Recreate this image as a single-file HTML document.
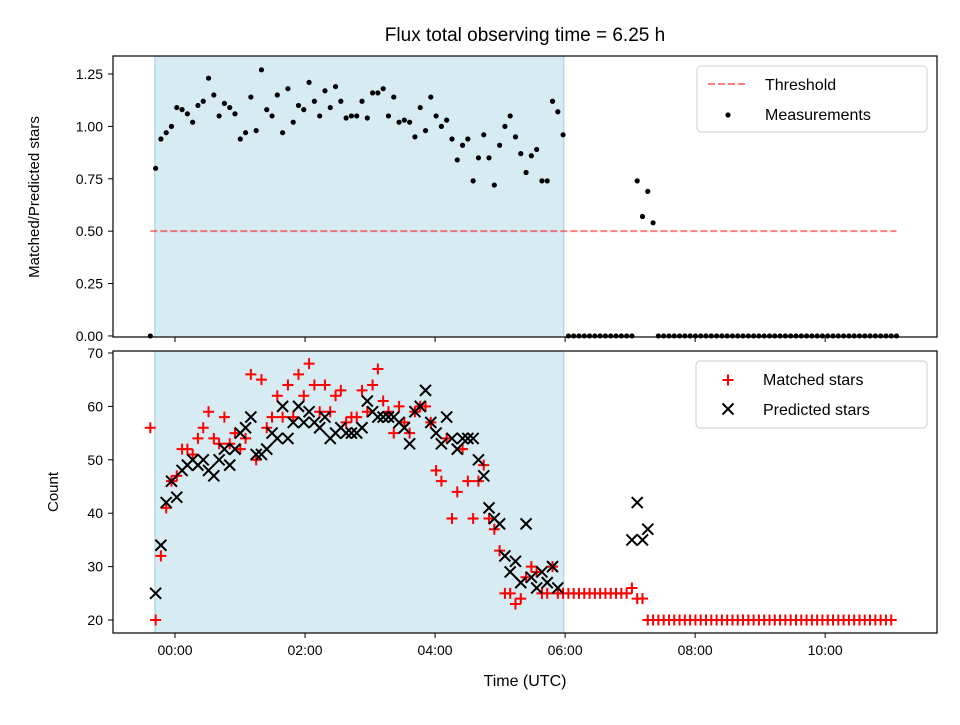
<!DOCTYPE html>
<html><head><meta charset="utf-8"><style>
body{margin:0;background:#fff}
svg{font-family:"Liberation Sans","DejaVu Sans",sans-serif}
</style></head><body>
<svg id="chart" width="960" height="720" viewBox="0 0 960 720" xmlns="http://www.w3.org/2000/svg"></svg>
<script>
const t0 = -0.38;
const dt = 0.0814;
const shadeRange = [-0.31, 5.98];
const threshold = 0.5;
const ratio = [0,
0.80,0.94,0.97,1.00,1.09,1.08,1.06,1.02,1.10,1.12,1.23,1.15,1.05,1.11,1.09,1.06,0.94,0.97,1.14,0.98,
1.27,1.08,1.05,1.15,0.97,1.18,1.02,1.10,1.08,1.21,1.12,1.05,1.17,1.09,1.19,1.12,1.04,1.05,1.05,1.12,
1.04,1.16,1.16,1.18,1.05,1.14,1.02,1.03,1.02,0.95,1.09,0.98,1.14,1.05,1.00,1.03,0.94,0.84,0.91,0.94,
0.74,0.85,0.96,0.85,0.72,0.91,1.00,1.05,0.95,0.87,0.78,0.86,0.89,0.74,0.74,1.12,1.07,0.96,
0,0,0,0,0,0,0,0,0,0,0,0,0,
0.74,0.57,0.69,0.54,
0,0,0,0,0,0,0,0,0,0,0,0,0,0,0,0,0,0,0,0,0,0,0,0,0,0,0,0,0,0,0,0,0,0,0,0,0,0,0,0,0,0,0,0,0,0];
const matched = [56,
20,32,41,46,47,52,52,51,54,56,59,54,53,58,53,55,52,54,66,
50,65,56,58,62,58,64,58,66,62,68,64,59,64,59,62,63,57,58,58,
63,59,64,67,61,59,55,60,57,55,59,60,60,57,48,46,54,39,44,52,
46,39,46,49,39,37,33,25,25,23,24,28,30,29,25,25,30,25,
25,25,25,25,25,25,25,25,25,25,25,25,25,
26,24,24,20,
20,20,20,20,20,20,20,20,20,20,20,20,20,20,20,20,20,20,20,20,20,20,20,20,20,20,20,20,20,20,20,20,20,20,20,20,20,20,20,20,20,20,20,20,20,20];
const predicted = [null,
25,34,42,46,43,48,49,50,49,50,48,47,50,52,49,52,55,56,58,51,
51,52,55,54,60,54,57,60,57,59,57,56,58,54,55,56,55,55,55,56,
61,59,58,58,58,58,57,56,53,59,60,63,57,55,53,58,54,52,54,54,
54,50,47,41,39,38,32,29,31,27,38,28,26,29,27,30,26,
null,null,null,null,null,null,null,null,null,null,null,null,null,
35,42,35,37];
const topTicks = [0,0.25,0.5,0.75,1.0,1.25];
const topTickLabels = ["0.00","0.25","0.50","0.75","1.00","1.25"];
const botTicks = [20,30,40,50,60,70];
const xTicks = [0,2,4,6,8,10];
const xTickLabels = ["00:00","02:00","04:00","06:00","08:00","10:00"];

const NS="http://www.w3.org/2000/svg";
const svg=document.getElementById('chart');
function mk(tag,attrs,parent,text){const e=document.createElementNS(NS,tag);for(const k in attrs)e.setAttribute(k,attrs[k]);if(text!==undefined)e.textContent=text;(parent||svg).appendChild(e);return e;}
const L=113,R=937;
const xMin=-0.954,xMax=11.72;
const X=t=>L+(t-xMin)/(xMax-xMin)*(R-L);
const TT=56,TB=337,tyMin=-0.005,tyMax=1.336;
const YT=v=>TB-(v-tyMin)/(tyMax-tyMin)*(TB-TT);
const BT=351,BB=633,byMin=17.57,byMax=70.37;
const YB=v=>BB-(v-byMin)/(byMax-byMin)*(BB-BT);
const T=i=>t0+i*dt;

let e=mk('text',{x:525,y:41,'font-size':19,'text-anchor':'middle'},svg,'Flux total observing time = 6.25 h');



e=mk('rect',{x:X(shadeRange[0]),y:TT,width:X(shadeRange[1])-X(shadeRange[0]),height:TB-TT,fill:'#add8e6','fill-opacity':0.5,stroke:'#9fcfe0'});


e=mk('rect',{x:X(shadeRange[0]),y:BT,width:X(shadeRange[1])-X(shadeRange[0]),height:BB-BT,fill:'#add8e6','fill-opacity':0.5,stroke:'#9fcfe0'});



e=mk('line',{x1:X(T(0)),x2:X(T(ratio.length-1)),y1:YT(threshold),y2:YT(threshold),stroke:'#ff0000','stroke-opacity':0.5,'stroke-width':2,'stroke-dasharray':'7,3'});



ratio.forEach((v,i)=>{if(v===null)return;
 const c=mk('circle',{cx:X(T(i)),cy:YT(v),r:2.6,fill:'#000'});
 
 
});
matched.forEach((v,i)=>{if(v===null)return;const x=X(T(i)),y=YB(v);
 const p=mk('path',{d:`M${x-5.5},${y}H${x+5.5}M${x},${y-5.5}V${y+5.5}`,stroke:'#f00','stroke-width':2});
 
 
});
predicted.forEach((v,i)=>{if(v===null)return;const x=X(T(i)),y=YB(v);
 const p=mk('path',{d:`M${x-5.5},${y-5.5}L${x+5.5},${y+5.5}M${x-5.5},${y+5.5}L${x+5.5},${y-5.5}`,stroke:'#000','stroke-width':2});
 
 
});

e=mk('rect',{x:L,y:TT,width:R-L,height:TB-TT,fill:'none',stroke:'#000','stroke-width':1.2});


e=mk('rect',{x:L,y:BT,width:R-L,height:BB-BT,fill:'none',stroke:'#000','stroke-width':1.2});



topTicks.forEach((v,i)=>{const y=YT(v);
 mk('line',{x1:L-5,x2:L,y1:y,y2:y,stroke:'#000'});
 const t=mk('text',{x:L-10,y:y+5,'font-size':14,'text-anchor':'end'},svg,topTickLabels[i]);
 
 
});
botTicks.forEach(v=>{const y=YB(v);
 mk('line',{x1:L-5,x2:L,y1:y,y2:y,stroke:'#000'});
 const t=mk('text',{x:L-10,y:y+5,'font-size':14,'text-anchor':'end'},svg,String(v));
 
 
});
xTicks.forEach((v,i)=>{const x=X(v);
 mk('line',{x1:x,x2:x,y1:TB,y2:TB+5,stroke:'#000'});
 mk('line',{x1:x,x2:x,y1:BB,y2:BB+5,stroke:'#000'});
 const t=mk('text',{x:x,y:BB+22,'font-size':14,'text-anchor':'middle'},svg,xTickLabels[i]);
 
 
});

e=mk('text',{x:525,y:686,'font-size':16,'text-anchor':'middle'},svg,'Time (UTC)');


e=mk('text',{x:39,y:197,'font-size':15,'text-anchor':'middle',transform:'rotate(-90 39 197)'},svg,'Matched/Predicted stars');


e=mk('text',{x:58,y:492,'font-size':15,'text-anchor':'middle',transform:'rotate(-90 58 492)'},svg,'Count');



let g=mk('g',{});


mk('rect',{x:697,y:66,width:230,height:66,rx:4,fill:'#fff','fill-opacity':0.8,stroke:'#ccc'},g);
mk('line',{x1:708,x2:748,y1:84,y2:84,stroke:'#f00','stroke-opacity':0.5,'stroke-width':2,'stroke-dasharray':'7,3'},g);
mk('text',{x:765,y:90,'font-size':16},g,'Threshold');
mk('circle',{cx:728,cy:115,r:2.6,fill:'#000'},g);
mk('text',{x:765,y:120,'font-size':16},g,'Measurements');

g=mk('g',{});


mk('rect',{x:696,y:361,width:231,height:67,rx:4,fill:'#fff','fill-opacity':0.8,stroke:'#ccc'},g);
mk('path',{d:'M722.5,380H733.5M728,374.5V385.5',stroke:'#f00','stroke-width':2},g);
mk('text',{x:763,y:385,'font-size':16},g,'Matched stars');
mk('path',{d:'M722.5,403.5L733.5,414.5M722.5,414.5L733.5,403.5',stroke:'#000','stroke-width':2},g);
mk('text',{x:763,y:415,'font-size':16},g,'Predicted stars');
</script>
</body></html>
